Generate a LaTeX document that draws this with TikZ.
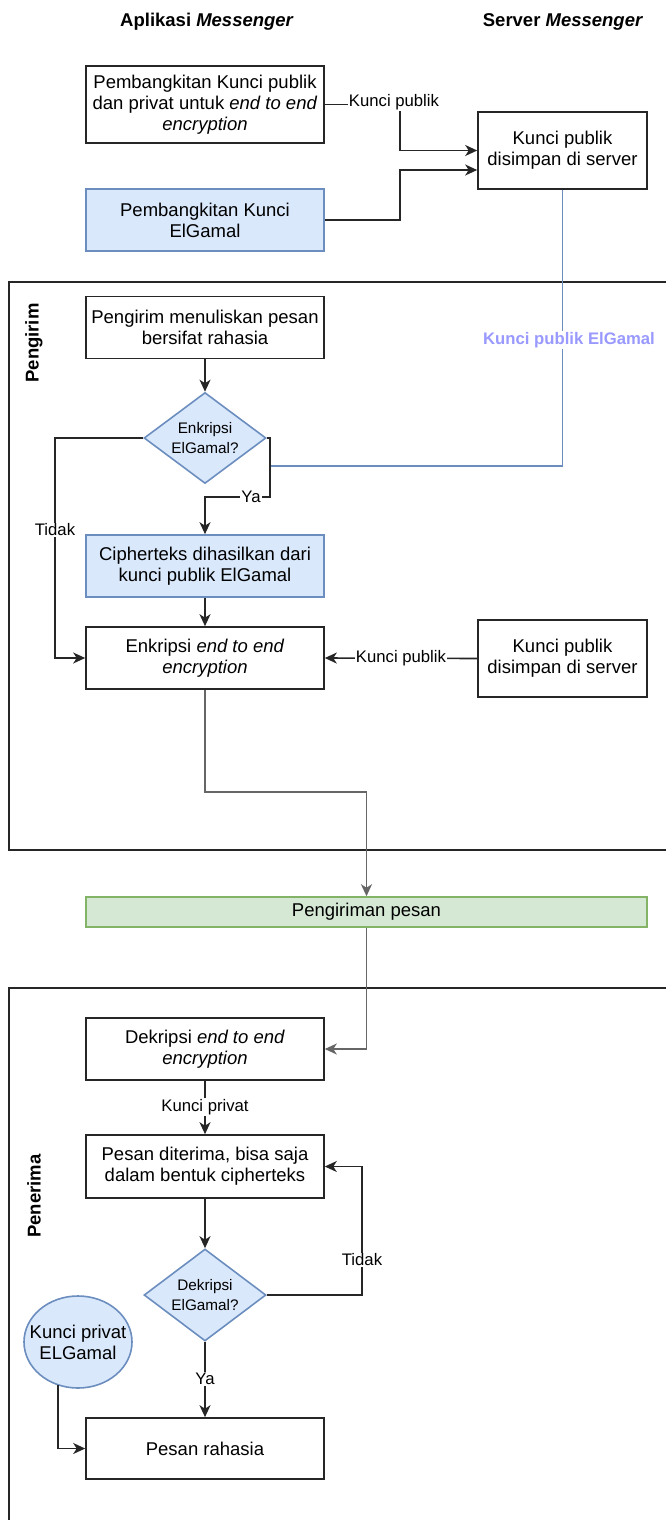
\documentclass[tikz,border=0pt]{standalone}
\usepackage{fontspec}
\setmainfont{Liberation Sans}
\usetikzlibrary{shapes.geometric,arrows.meta,positioning,calc}

\definecolor{elgFill}{HTML}{DAE8FC}
\definecolor{elgLine}{HTML}{6C8EBF}
\definecolor{sendFill}{HTML}{D5E8D4}
\definecolor{sendLine}{HTML}{82B366}
\definecolor{elgLabel}{HTML}{9999FF}

\newcommand{\boxfont}{\fontsize{18.5}{21}\selectfont}
\newcommand{\lblfont}{\fontsize{16.7}{19}\selectfont}
\newcommand{\decfont}{\fontsize{15.3}{20}\selectfont}

\begin{document}
\begin{tikzpicture}[
    x=1pt, y=-1pt,
    box/.style={draw=black!85, line width=1.6pt, fill=white, minimum width=238pt,
        minimum height=62pt, align=center, font=\boxfont},
    elgbox/.style={box, fill=elgFill, draw=elgLine},
    srvbox/.style={box, minimum width=169pt, minimum height=77pt},
    decision/.style={diamond, aspect=1.34, draw=elgLine, fill=elgFill, line width=1.6pt,
        minimum width=122pt, minimum height=91pt, inner sep=0pt, align=center, font=\decfont},
    keynode/.style={ellipse, draw=elgLine, fill=elgFill, line width=1.6pt,
        minimum width=108pt, minimum height=92pt, inner sep=0pt},
    elabel/.style={fill=white, inner sep=1pt, font=\lblfont},
    arr/.style={draw=black!85, line width=1.6pt, -{Stealth[length=12pt,width=11pt,inset=3.5pt]}},
    grayarr/.style={arr, draw=black!60},
    blueline/.style={draw=elgLine, line width=1.6pt},
    frame/.style={draw=black!85, line width=1.6pt},
    lane/.style={rotate=90, font=\bfseries\boxfont},
    header/.style={font=\bfseries\boxfont}
]

\useasboundingbox (0,0) rectangle (666,1520);

% Lanes
\draw [frame] (9,282) rectangle (690,850);
\draw [frame] (9,988) rectangle (690,1540);
\node (lanePengirim) at (34,343) [lane] {Pengirim};
\node (lanePenerima) at (34,1196) [lane] {Penerima};

% Column headers
\node (hdrApp) at (207,22) [header] {Aplikasi \textit{Messenger}};
\node (hdrSrv) at (563,22) [header] {Server \textit{Messenger}};

% Key generation
\node (genPub) at (205,104.5) [box, minimum height=77pt] {Pembangkitan Kunci publik\\dan privat untuk \textit{end to end}\\\textit{encryption}};
\node (genElg) at (205,220) [elgbox] {Pembangkitan Kunci\\ElGamal};
\node (srvTop) at (562.5,150.5) [srvbox] {Kunci publik\\disimpan di server};

% Sender
\node (sendMsg) at (205,327.5) [box] {Pengirim menuliskan pesan\\bersifat rahasia};
\node (encQ) at (205,438) [decision] {Enkripsi\\ElGamal?};
\node (cipher) at (205,566) [elgbox] {Cipherteks dihasilkan dari\\kunci publik ElGamal};
\node (enc) at (205,658) [box] {Enkripsi \textit{end to end}\\\textit{encryption}};
\node (srvMid) at (562.5,658.5) [srvbox] {Kunci publik\\disimpan di server};

% Transfer
\node (send) at (366.5,912) [box, minimum width=561pt, minimum height=30pt, fill=sendFill, draw=sendLine] {Pengiriman pesan};

% Receiver
\node (dek) at (205,1049) [box] {Dekripsi \textit{end to end}\\\textit{encryption}};
\node (recv) at (205,1166.5) [box, minimum height=63pt] {Pesan diterima, bisa saja\\dalam bentuk cipherteks};
\node (dekQ) at (205,1295) [decision, minimum height=92pt] {Dekripsi\\ElGamal?};
\node (secret) at (205,1448.5) [box, minimum height=61pt] {Pesan rahasia};
\node (keyPriv) at (78,1342) [keynode] {};
\node (keyPrivTxt) at (keyPriv) [align=center, font=\boxfont] {Kunci privat\\ELGamal};

% Helper points
\coordinate (cPub) at (400,102);
\coordinate (inElg) at ([yshift=-19.5pt]srvTop.west);
\coordinate (yaR) at (270,497);
\coordinate (elgJ) at (270,466);
\coordinate (tdkX) at (55,438);
\coordinate (jog) at (366.5,792);
\coordinate (tdk2) at (362,1295);

% Connectors
\draw [arr] (genPub.east) -| (cPub |- srvTop.west) -- (srvTop.west);
\draw [arr] (genElg.east) -| (cPub |- inElg) -- (inElg);
\draw [blueline] (srvTop.south) |- (elgJ);
\draw [arr] (sendMsg.south) -- (encQ.north);
\draw [arr] (encQ.east) -| (yaR) -| (cipher.north);
\draw [arr] (encQ.west) -| (enc.west -| tdkX) -- (enc.west);
\draw [arr] (cipher.south) -- (enc.north);
\draw [arr] (srvMid.west) -- (enc.east);
\draw [grayarr] (enc.south) |- (jog) -- (send.north);
\draw [grayarr] (send.south) |- (dek.east);
\draw [arr] (dek.south) -- (recv.north);
\draw [arr] (recv.south) -- (dekQ.north);
\draw [arr] (dekQ.east) -- (tdk2) |- (recv.east);
\draw [arr] (dekQ.south) -- (secret.north);
\draw [arr] (keyPriv.245) |- (secret.west);

% Connector labels
\node (lblPub1) at (394,102) [elabel] {Kunci publik};
\node (lblElg) at (569,340) [elabel, font=\bfseries\lblfont, text=elgLabel] {Kunci publik ElGamal};
\node (lblYa1) at (251,497) [elabel] {Ya};
\node (lblTdk1) at (55,530) [elabel] {Tidak};
\node (lblPub2) at (401,658) [elabel] {Kunci publik};
\node (lblPriv) at (205,1107) [elabel] {Kunci privat};
\node (lblTdk2) at (362,1260) [elabel] {Tidak};
\node (lblYa2) at (205,1379) [elabel] {Ya};

\end{tikzpicture}
\end{document}
